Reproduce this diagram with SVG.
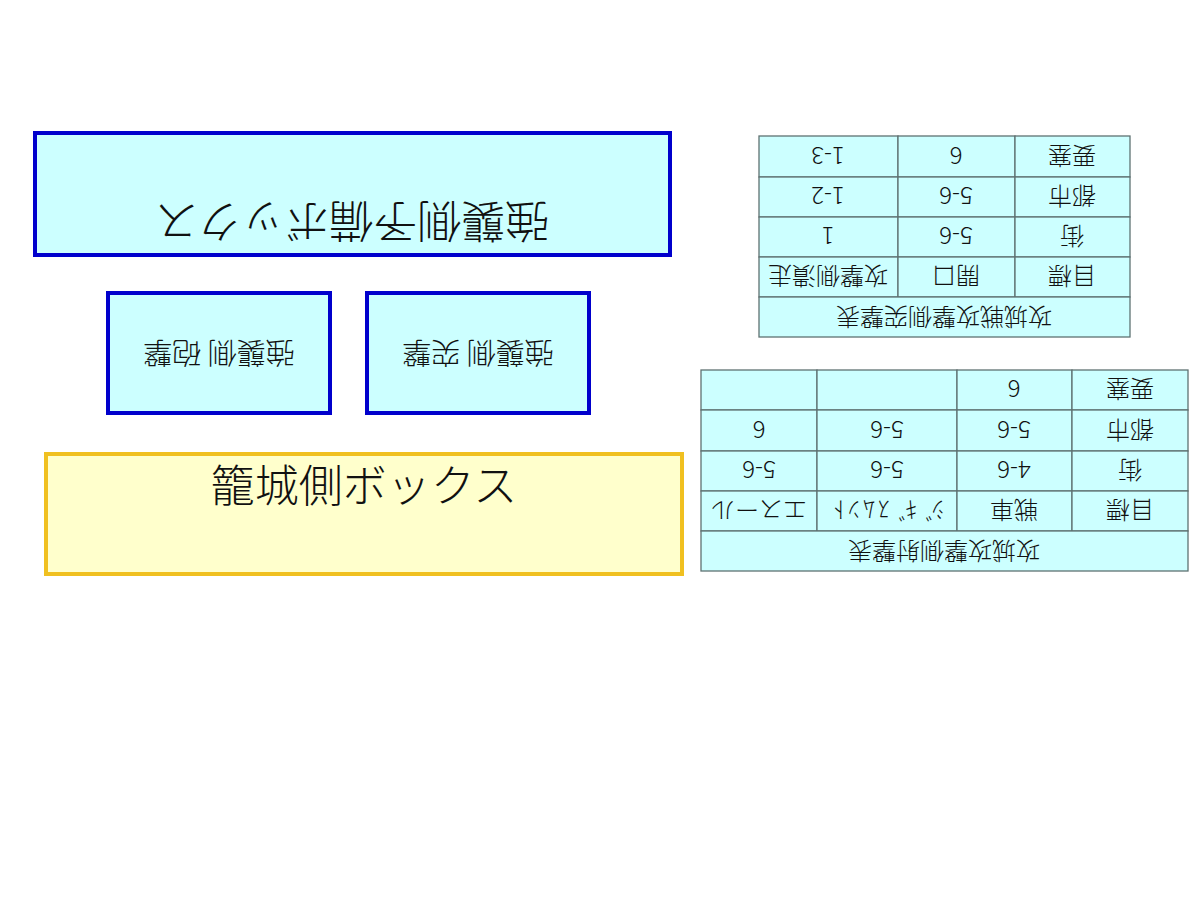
<svg xmlns="http://www.w3.org/2000/svg" width="1200" height="900" viewBox="0 0 1200 900">
<style>
.bx{fill:#ccffff;stroke:#0000cc;stroke-width:4}
.yb{fill:#ffffcc;stroke:#f0c020;stroke-width:4}
.c{fill:#ccffff;stroke:#5f7272;stroke-width:1.3}
text{font-family:"Noto Sans CJK JP","Noto Sans",sans-serif;font-weight:300;fill:#111;text-anchor:middle;dominant-baseline:central}
.big{font-size:44px}
.mid{font-size:29px}
.t{font-size:24px}
</style>
<rect width="1200" height="900" fill="#fff"/>
<g id="reserve">
<rect class="bx" x="35" y="133" width="635" height="122"/>
<text class="big" x="352" y="224" transform="rotate(180 352 224)">強襲側予備ボックス</text>
</g>
<g id="bombard">
<rect class="bx" x="108" y="293" width="222" height="120"/>
<text class="mid" x="219" y="355" transform="rotate(180 219 355)">強襲側 砲撃</text>
</g>
<g id="assault">
<rect class="bx" x="367" y="293" width="222" height="120"/>
<text class="mid" x="478" y="355" transform="rotate(180 478 355)">強襲側 突撃</text>
</g>
<g id="defender">
<rect class="yb" x="46" y="454" width="636" height="120"/>
<text class="big" x="364" y="483">籠城側ボックス</text>
</g>
<g id="table1">
<rect class="c" x="759" y="136" width="139" height="41"/>
<rect class="c" x="898" y="136" width="117" height="41"/>
<rect class="c" x="1015" y="136" width="115" height="41"/>
<rect class="c" x="759" y="177" width="139" height="40"/>
<rect class="c" x="898" y="177" width="117" height="40"/>
<rect class="c" x="1015" y="177" width="115" height="40"/>
<rect class="c" x="759" y="217" width="139" height="40"/>
<rect class="c" x="898" y="217" width="117" height="40"/>
<rect class="c" x="1015" y="217" width="115" height="40"/>
<rect class="c" x="759" y="257" width="139" height="40"/>
<rect class="c" x="898" y="257" width="117" height="40"/>
<rect class="c" x="1015" y="257" width="115" height="40"/>
<rect class="c" x="759" y="297" width="371" height="40"/>
<text class="t" x="828" y="157" transform="rotate(180 828 157)">1-3</text>
<text class="t" x="956" y="157" transform="rotate(180 956 157)">6</text>
<text class="t" x="1072" y="157" transform="rotate(180 1072 157)">要塞</text>
<text class="t" x="828" y="197" transform="rotate(180 828 197)">1-2</text>
<text class="t" x="956" y="197" transform="rotate(180 956 197)">5-6</text>
<text class="t" x="1072" y="197" transform="rotate(180 1072 197)">都市</text>
<text class="t" x="828" y="237" transform="rotate(180 828 237)">1</text>
<text class="t" x="956" y="237" transform="rotate(180 956 237)">5-6</text>
<text class="t" x="1072" y="237" transform="rotate(180 1072 237)">街</text>
<text class="t" x="828" y="277" transform="rotate(180 828 277)">攻撃側潰走</text>
<text class="t" x="956" y="277" transform="rotate(180 956 277)">開口</text>
<text class="t" x="1072" y="277" transform="rotate(180 1072 277)">目標</text>
<text class="t" x="944" y="318" transform="rotate(180 944 318)">攻城戦攻撃側突撃表</text>
</g>
<g id="table2">
<rect class="c" x="701" y="370" width="116" height="40"/>
<rect class="c" x="817" y="370" width="140" height="40"/>
<rect class="c" x="957" y="370" width="115" height="40"/>
<rect class="c" x="1072" y="370" width="116" height="40"/>
<rect class="c" x="701" y="410" width="116" height="41"/>
<rect class="c" x="817" y="410" width="140" height="41"/>
<rect class="c" x="957" y="410" width="115" height="41"/>
<rect class="c" x="1072" y="410" width="116" height="41"/>
<rect class="c" x="701" y="451" width="116" height="40"/>
<rect class="c" x="817" y="451" width="140" height="40"/>
<rect class="c" x="957" y="451" width="115" height="40"/>
<rect class="c" x="1072" y="451" width="116" height="40"/>
<rect class="c" x="701" y="491" width="116" height="40"/>
<rect class="c" x="817" y="491" width="140" height="40"/>
<rect class="c" x="957" y="491" width="115" height="40"/>
<rect class="c" x="1072" y="491" width="116" height="40"/>
<rect class="c" x="701" y="531" width="487" height="40"/>
<text class="t" x="1014" y="390" transform="rotate(180 1014 390)">6</text>
<text class="t" x="1130" y="390" transform="rotate(180 1130 390)">要塞</text>
<text class="t" x="759" y="431" transform="rotate(180 759 431)">6</text>
<text class="t" x="887" y="431" transform="rotate(180 887 431)">5-6</text>
<text class="t" x="1014" y="431" transform="rotate(180 1014 431)">5-6</text>
<text class="t" x="1130" y="431" transform="rotate(180 1130 431)">都市</text>
<text class="t" x="759" y="471" transform="rotate(180 759 471)">5-6</text>
<text class="t" x="887" y="471" transform="rotate(180 887 471)">5-6</text>
<text class="t" x="1014" y="471" transform="rotate(180 1014 471)">4-6</text>
<text class="t" x="1130" y="471" transform="rotate(180 1130 471)">街</text>
<text class="t" x="759" y="511" transform="rotate(180 759 511)">エスール</text>
<text class="t" x="887" y="511" letter-spacing="3" transform="rotate(180 887 511)">ｼﾞｷﾞｽﾑﾝﾄ</text>
<text class="t" x="1014" y="511" transform="rotate(180 1014 511)">戦車</text>
<text class="t" x="1130" y="511" transform="rotate(180 1130 511)">目標</text>
<text class="t" x="944" y="552" transform="rotate(180 944 552)">攻城攻撃側射撃表</text>
</g>
</svg>
